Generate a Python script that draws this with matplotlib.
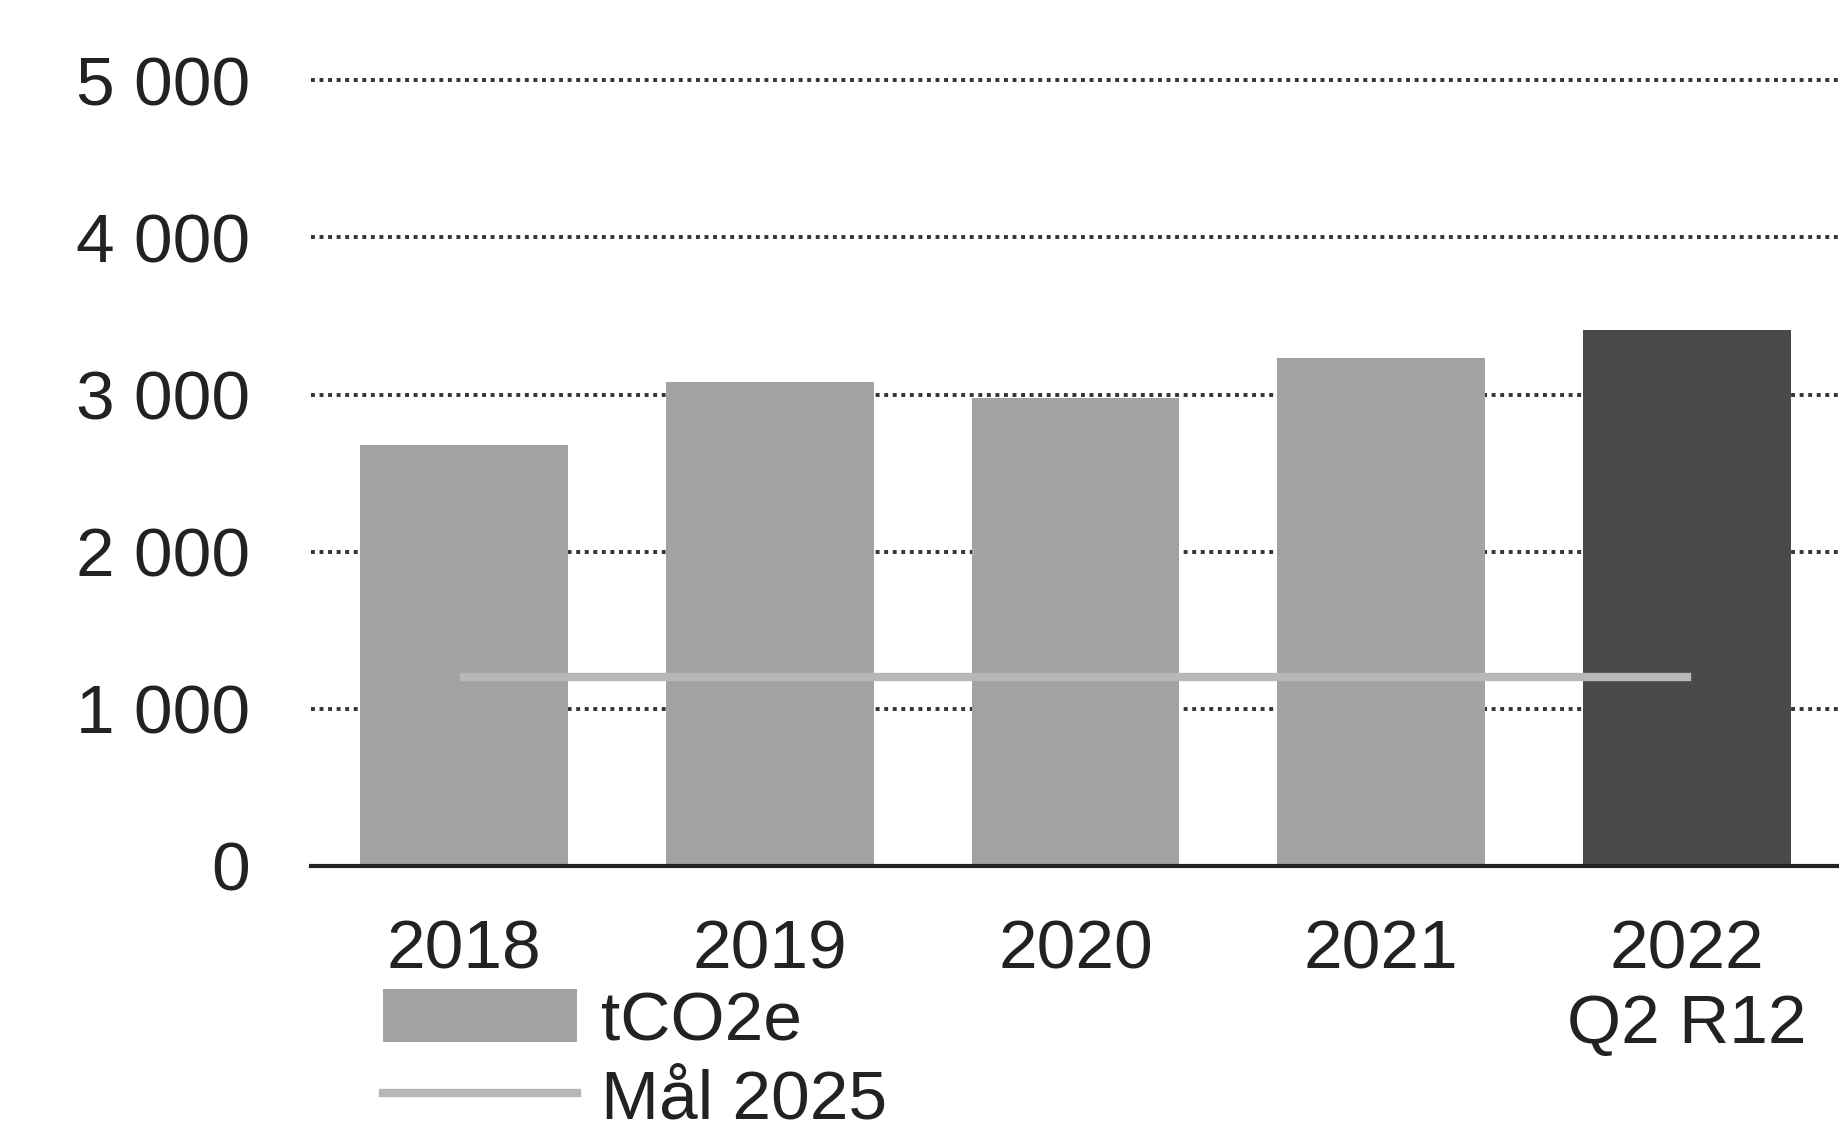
import matplotlib.pyplot as plt
import numpy as np

plt.rcParams['font.family'] = ['Liberation Sans', 'DejaVu Sans']

years = ['2018', '2019', '2020', '2021', '2022\nQ2 R12']
tco2e = [2680, 3080, 2980, 3230, 3410]
target = [1200, 1200, 1200, 1200, 1200]
yticks = [0, 1000, 2000, 3000, 4000, 5000]

bar_colors = ['#a2a2a2', '#a2a2a2', '#a2a2a2', '#a2a2a2', '#4a4a4a']

fig = plt.figure(figsize=(18.4, 11.32), dpi=100)
ax = fig.add_axes([0.169, 0.235, 0.831, 0.708])

x = np.arange(len(years))
bars = ax.bar(x, tco2e, width=0.68, color=bar_colors, label='tCO2e', zorder=2)
line, = ax.plot(x, target, color='#b8b8b8', lw=6, label='Mål 2025', zorder=3)

ax.set_xlim(-0.5, 4.5)
ax.set_ylim(0, 5100)
ax.set_yticks(yticks)
ax.set_yticklabels([f'{v:,}'.replace(',', ' ') for v in yticks])
ax.set_xticks(x)
ax.set_xticklabels(years)
ax.tick_params(axis='y', length=0, pad=44, labelsize=50, labelcolor='#222222')
ax.tick_params(axis='x', length=0, pad=38, labelsize=50, labelcolor='#222222')

ax.yaxis.grid(True, linestyle=(0, (1, 1.2)), color='#333333', lw=2.8, zorder=1)
ax.set_axisbelow(True)
for s in ['top', 'right', 'left']:
    ax.spines[s].set_visible(False)
ax.spines['bottom'].set_color('#222222')
ax.spines['bottom'].set_linewidth(3)

# legend: bar patch shown in the regular light gray
leg = ax.legend([bars, line], ['tCO2e', 'Mål 2025'], loc='upper left',
                bbox_to_anchor=(0.208, 0.126),
                bbox_transform=fig.transFigure, frameon=False, fontsize=50,
                handlelength=2.8, handleheight=0.8, handletextpad=0.35,
                labelspacing=0.2, borderpad=0, borderaxespad=0)
leg.legend_handles[0].set_facecolor('#a2a2a2')
for t in leg.get_texts():
    t.set_color('#222222')

fig.savefig('out.png', dpi=100)
